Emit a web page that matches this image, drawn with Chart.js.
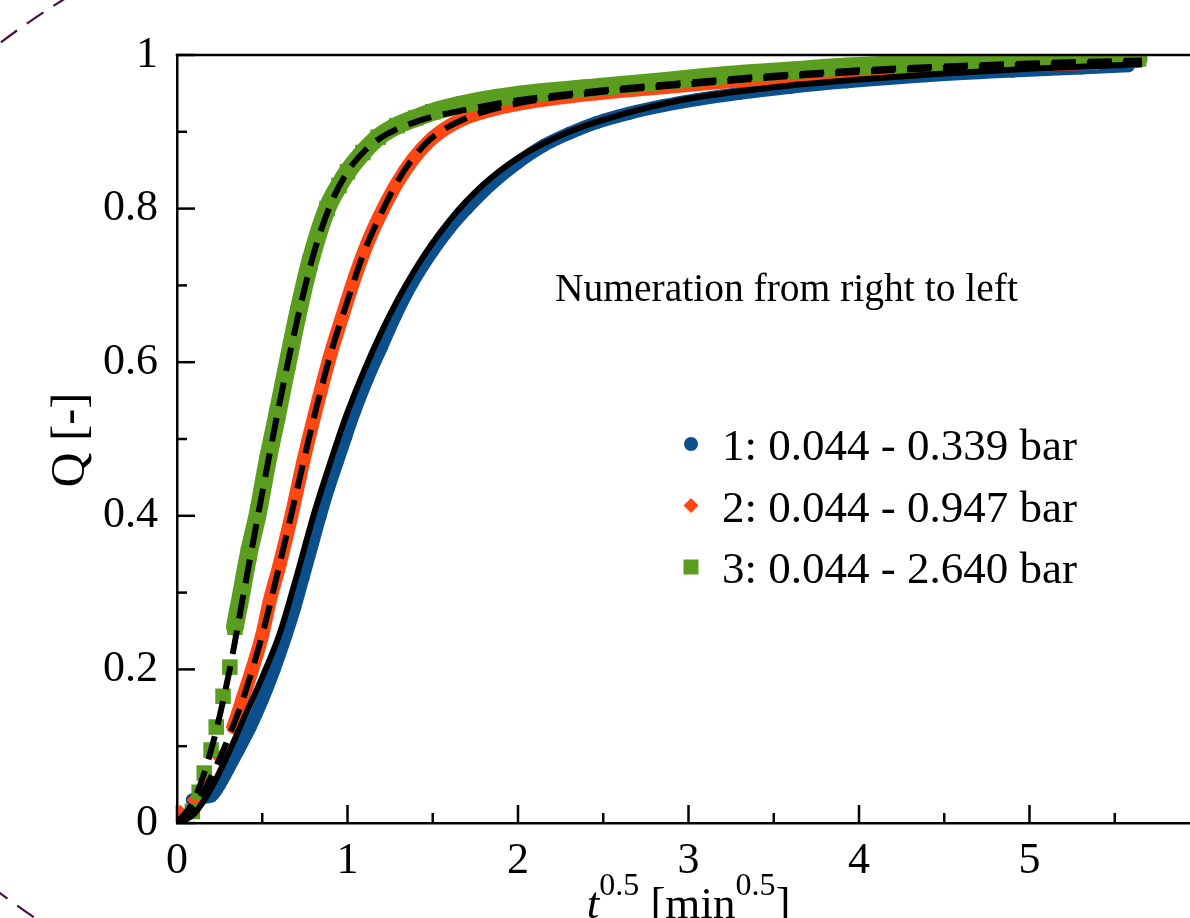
<!DOCTYPE html>
<html>
<head>
<meta charset="utf-8">
<title>Q vs t^0.5</title>
<script src="https://cdn.jsdelivr.net/npm/chart.js@4"></script>
<style>
    html, body { margin: 0; padding: 0; background: #fff; overflow: hidden; }
    #wrap { position: absolute; left: 0; top: 0; width: 1215px; height: 918px; }
</style>
</head>
<body>
<div id="wrap"><canvas id="chart"></canvas></div>
<script>
const s1X = [0.05, 0.09, 0.2, 0.25, 0.3, 0.36, 0.43, 0.5, 0.57, 0.64, 0.69, 0.74, 0.79, 0.84, 0.89, 0.94, 0.99, 1.04, 1.12, 1.2, 1.28, 1.38, 1.5, 1.6, 1.7, 1.85, 2.0, 2.15, 2.3, 2.46, 2.65, 2.85, 3.05, 3.3, 3.6, 3.93, 4.4, 4.9, 5.3, 5.58];
const s1Q = [0.01, 0.03, 0.035, 0.05, 0.07, 0.095, 0.125, 0.16, 0.2, 0.245, 0.28, 0.32, 0.36, 0.4, 0.437, 0.47, 0.503, 0.535, 0.58, 0.62, 0.66, 0.703, 0.745, 0.775, 0.8, 0.833, 0.86, 0.882, 0.898, 0.912, 0.924, 0.934, 0.942, 0.95, 0.958, 0.965, 0.973, 0.979, 0.983, 0.986];

const s2X = [0.02, 0.1, 0.175, 0.25, 0.33, 0.39, 0.445, 0.5, 0.545, 0.6, 0.675, 0.74, 0.81, 0.9, 0.97, 1.05, 1.13, 1.21, 1.29, 1.38, 1.48, 1.58, 1.68, 1.85, 2.07, 2.46, 2.85, 3.3, 3.8, 4.3, 4.8, 5.4];
const s2Q = [0.014, 0.03, 0.056, 0.085, 0.125, 0.165, 0.203, 0.245, 0.29, 0.335, 0.404, 0.47, 0.534, 0.61, 0.66, 0.715, 0.762, 0.8, 0.833, 0.863, 0.888, 0.905, 0.917, 0.929, 0.939, 0.95, 0.958, 0.967, 0.975, 0.981, 0.986, 0.99];

const s3X = [0.09, 0.13, 0.16, 0.2, 0.23, 0.27, 0.31, 0.34, 0.37, 0.42, 0.475, 0.53, 0.59, 0.65, 0.71, 0.78, 0.88, 0.95, 1.0, 1.09, 1.18, 1.29, 1.4, 1.5, 1.68, 1.87, 2.07, 2.46, 2.85, 3.22, 3.6, 3.93, 4.4, 4.9, 5.3, 5.64];
const s3Q = [0.015, 0.04, 0.065, 0.095, 0.125, 0.165, 0.203, 0.255, 0.29, 0.35, 0.404, 0.47, 0.534, 0.6, 0.664, 0.73, 0.8, 0.83, 0.848, 0.873, 0.893, 0.908, 0.918, 0.926, 0.936, 0.944, 0.95, 0.958, 0.966, 0.974, 0.98, 0.985, 0.989, 0.992, 0.994, 0.995];

// Model fits (black solid for 1, black dashed for 2 and 3)
const fit1X = [0, 0.1, 0.2, 0.3, 0.4, 0.5, 0.6, 0.7, 0.8, 0.9, 1.0, 1.2, 1.4, 1.6, 1.8, 2.0, 2.3, 2.6, 3.0, 3.5, 4.0, 4.5, 5.0, 5.66];
const fit1Q = [0, 0.012, 0.045, 0.09, 0.14, 0.19, 0.245, 0.32, 0.4, 0.47, 0.535, 0.64, 0.722, 0.785, 0.832, 0.866, 0.9, 0.922, 0.943, 0.958, 0.968, 0.976, 0.982, 0.988];

const fit2X = [0, 0.1, 0.2, 0.3, 0.4, 0.5, 0.6, 0.7, 0.8, 0.9, 1.0, 1.1, 1.2, 1.3, 1.4, 1.5, 1.7, 2.0, 2.5, 3.0, 3.5, 4.0, 4.5, 5.0, 5.66];
const fit2Q = [0, 0.02, 0.06, 0.11, 0.17, 0.245, 0.335, 0.43, 0.525, 0.61, 0.68, 0.745, 0.795, 0.838, 0.87, 0.893, 0.918, 0.937, 0.952, 0.962, 0.971, 0.978, 0.983, 0.987, 0.991];

const fit3X = [0, 0.1, 0.2, 0.3, 0.4, 0.5, 0.6, 0.7, 0.8, 0.9, 1.0, 1.1, 1.2, 1.4, 1.7, 2.0, 2.5, 3.0, 3.5, 4.0, 4.5, 5.0, 5.66];
const fit3Q = [0, 0.03, 0.095, 0.19, 0.31, 0.43, 0.545, 0.65, 0.74, 0.805, 0.848, 0.875, 0.893, 0.913, 0.929, 0.941, 0.954, 0.964, 0.973, 0.98, 0.985, 0.989, 0.993];

const legendLabels = ['1: 0.044 - 0.339 bar', '2: 0.044 - 0.947 bar', '3: 0.044 - 2.640 bar'];
const noteText = 'Numeration from right to left';
const yTitle = 'Q [-]';

const SERIF = '"Liberation Serif", "Times New Roman", serif';
const BLUE = '#0b4f8d';
const ORANGE = '#ff4714';
const GREEN = '#5b9d1f';

function toPoints(xs, qs) {
    return xs.map((v, i) => ({ x: v, y: qs[i] }));
}

// measured data: markers on top of a band of the same colour
function bandSet(label, xs, qs, color, style, radius, width, gapBelow, order) {
    return {
        label: label,
        data: toPoints(xs, qs),
        showLine: true,
        borderColor: color,
        borderWidth: width,
        borderCapStyle: 'round',
        borderJoinStyle: 'round',
        backgroundColor: color,
        pointBackgroundColor: color,
        pointBorderWidth: 0,
        pointStyle: style,
        pointRadius: radius,
        cubicInterpolationMode: 'monotone',
        segment: {
            borderColor: c => c.p0.parsed.y < gapBelow ? 'rgba(0,0,0,0)' : color
        },
        order: order
    };
}

function fitSet(xs, qs, dash) {
    return {
        label: 'fit',
        data: toPoints(xs, qs),
        showLine: true,
        borderColor: '#000',
        borderWidth: 6,
        borderDash: dash,
        pointRadius: 0,
        cubicInterpolationMode: 'monotone',
        order: 0
    };
}

function drawMarker(ctx, style, cx, cy, color) {
    ctx.fillStyle = color;
    ctx.beginPath();
    if (style === 'circle') {
        ctx.arc(cx, cy, 7, 0, Math.PI * 2);
    } else if (style === 'rectRot') {
        ctx.moveTo(cx, cy - 7.5);
        ctx.lineTo(cx + 7.5, cy);
        ctx.lineTo(cx, cy + 7.5);
        ctx.lineTo(cx - 7.5, cy);
        ctx.closePath();
    } else {
        ctx.rect(cx - 7.5, cy - 7.5, 15, 15);
    }
    ctx.fill();
}

const decorPlugin = {
    id: 'decor',
    afterDraw(chart) {
        const { ctx, chartArea: area, scales: { x, y } } = chart;
        ctx.save();

        // frame top line and inward ticks
        ctx.strokeStyle = '#000';
        ctx.lineWidth = 2.5;
        ctx.beginPath();
        ctx.moveTo(area.left - 1.25, area.top);
        ctx.lineTo(area.right, area.top);
        ctx.stroke();

        x.ticks.forEach(t => {
            const px = x.getPixelForValue(t.value);
            const len = Number.isInteger(t.value) ? 18 : 10;
            ctx.beginPath();
            ctx.moveTo(px, area.bottom);
            ctx.lineTo(px, area.bottom - len);
            ctx.stroke();
        });
        y.ticks.forEach(t => {
            const py = y.getPixelForValue(t.value);
            const len = Math.round(t.value * 10) % 2 === 0 ? 18 : 10;
            ctx.beginPath();
            ctx.moveTo(area.left, py);
            ctx.lineTo(area.left + len, py);
            ctx.stroke();
        });

        // y axis title
        ctx.fillStyle = '#000';
        ctx.save();
        ctx.translate(84, (area.top + area.bottom) / 2 + 1);
        ctx.rotate(-Math.PI / 2);
        ctx.font = '48px ' + SERIF;
        ctx.textAlign = 'center';
        ctx.textBaseline = 'alphabetic';
        ctx.fillText(yTitle, 0, 0);
        ctx.restore();

        // x axis title: t^0.5 [min^0.5]
        const parts = [
            { text: 't', font: 'italic 45px ' + SERIF, dy: 0 },
            { text: '0.5', font: '32px ' + SERIF, dy: -23 },
            { text: ' [min', font: '45px ' + SERIF, dy: 0 },
            { text: '0.5', font: '32px ' + SERIF, dy: -23 },
            { text: ']', font: '45px ' + SERIF, dy: 0 }
        ];
        let total = 0;
        parts.forEach(p => {
            ctx.font = p.font;
            p.w = ctx.measureText(p.text).width;
            total += p.w;
        });
        let tx = (area.left + area.right) / 2 - total / 2;
        ctx.textAlign = 'left';
        ctx.textBaseline = 'alphabetic';
        parts.forEach(p => {
            ctx.font = p.font;
            ctx.fillText(p.text, tx, 918 + p.dy);
            tx += p.w;
        });

        // note and legend
        ctx.font = '39.5px ' + SERIF;
        ctx.fillText(noteText, 555, 301);

        const styles = ['circle', 'rectRot', 'rect'];
        const colors = [BLUE, ORANGE, GREEN];
        ctx.font = '45px ' + SERIF;
        legendLabels.forEach((label, i) => {
            const rowY = 460 + i * 61.5;
            drawMarker(ctx, styles[i], 691, rowY - 16, colors[i]);
            ctx.fillStyle = '#000';
            ctx.fillText(label, 722, rowY);
        });

        // dashed highlight ellipse around the figure
        ctx.strokeStyle = '#4a0f47';
        ctx.lineWidth = 2.2;
        ctx.setLineDash([20, 12]);
        ctx.beginPath();
        ctx.ellipse(700, 468, 941, 636, 0, 0, Math.PI * 2);
        ctx.stroke();

        ctx.restore();
    }
};

document.addEventListener('DOMContentLoaded', () => {
    const ctx = document.getElementById('chart').getContext('2d');
    new Chart(ctx, {
        type: 'scatter',
        data: {
            datasets: [
                fitSet(fit1X, fit1Q, []),
                fitSet(fit2X, fit2Q, [24, 12]),
                fitSet(fit3X, fit3Q, [24, 12]),
                bandSet(legendLabels[2], s3X, s3Q, GREEN, 'rect', 11, 18, 0.25, 1),
                bandSet(legendLabels[1], s2X, s2Q, ORANGE, 'rectRot', 7.5, 14, 0.12, 2),
                bandSet(legendLabels[0], s1X, s1Q, BLUE, 'circle', 6.5, 13, 0.025, 3)
            ]
        },
        options: {
            responsive: true,
            maintainAspectRatio: false,
            devicePixelRatio: 1,
            animation: false,
            events: [],
            layout: {
                padding: { left: 0, right: 3.6, top: 55, bottom: 0 }
            },
            scales: {
                x: {
                    type: 'linear',
                    min: 0,
                    max: 6,
                    grid: { display: false },
                    border: { display: true, color: '#000', width: 2.5 },
                    ticks: {
                        stepSize: 0.5,
                        autoSkip: false,
                        maxRotation: 0,
                        padding: 4,
                        color: '#000',
                        font: { family: SERIF, size: 44 },
                        callback: v => Number.isInteger(v) ? String(v) : ''
                    },
                    afterFit: s => { s.height = 95; }
                },
                y: {
                    type: 'linear',
                    min: 0,
                    max: 1,
                    grid: { display: false },
                    border: { display: true, color: '#000', width: 2.5 },
                    ticks: {
                        stepSize: 0.1,
                        autoSkip: false,
                        padding: 11,
                        color: '#000',
                        font: { family: SERIF, size: 44 },
                        callback: v => Math.round(v * 10) % 2 === 0 ? String(v) : ''
                    },
                    afterFit: s => { s.width = 177; }
                }
            },
            plugins: {
                legend: { display: false },
                tooltip: { enabled: false }
            }
        },
        plugins: [decorPlugin]
    });
});
</script>
</body>
</html>
